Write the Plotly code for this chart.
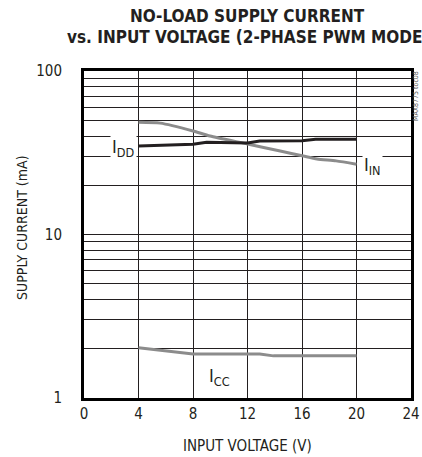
import plotly.graph_objects as go

# Data
v_in = [4, 5.6, 8, 9.25, 12, 14.4, 16.1, 17.1, 18.5, 20]
i_in = [48.6, 48.0, 43.0, 40.0, 35.8, 32.4, 30.2, 29.0, 28.2, 26.9]

v_dd = [4, 8, 9, 12, 12.9, 16, 17, 20]
i_dd = [34.8, 35.6, 36.6, 36.3, 37.3, 37.5, 38.2, 38.2]

v_cc = [4, 8, 12.9, 13.9, 20]
i_cc = [2.03, 1.86, 1.86, 1.81, 1.81]

x_ticks = [0, 4, 8, 12, 16, 20, 24]
y_ticks = [1, 10, 100]
y_minor = [2, 3, 4, 5, 6, 7, 8, 9, 20, 30, 40, 50, 60, 70, 80, 90]

FONT = "DejaVu Sans Condensed, Roboto Condensed, Roboto"
BLACK = "#231f20"
GRAY = "#8c8c8c"

L, T, W, H = 84, 71, 327, 327
FW, FH = 422, 457


def px(xp):
    return (xp - L) / W


def py(yp):
    return (T + H - yp) / H


fig = go.Figure()
fig.add_trace(go.Scatter(x=v_in, y=i_in, mode="lines", name="IIN",
                         line=dict(color=GRAY, width=3, shape="spline", smoothing=0.6)))
fig.add_trace(go.Scatter(x=v_dd, y=i_dd, mode="lines", name="IDD",
                         line=dict(color=BLACK, width=3)))
fig.add_trace(go.Scatter(x=v_cc, y=i_cc, mode="lines", name="ICC",
                         line=dict(color=GRAY, width=3)))

fig.update_layout(
    width=FW, height=FH,
    margin=dict(l=L, r=FW - L - W, t=T, b=FH - T - H),
    paper_bgcolor="white", plot_bgcolor="white",
    showlegend=False,
    font=dict(family=FONT, color=BLACK, size=15),
    xaxis=dict(
        range=[0, 24], tickvals=x_ticks, ticks="", showgrid=True,
        gridcolor=BLACK, gridwidth=1, zeroline=False, automargin=False,
        showline=True, linecolor="black", linewidth=3, mirror=True,
        tickfont=dict(family=FONT, size=15, color=BLACK),
        ticklabelstandoff=0,
    ),
    yaxis=dict(
        type="log", range=[0, 2], tickvals=y_ticks, ticks="",
        showgrid=True, gridcolor=BLACK, gridwidth=1, zeroline=False, automargin=False,
        minor=dict(tickvals=y_minor, showgrid=True, gridcolor=BLACK, gridwidth=1, ticks=""),
        showline=True, linecolor="black", linewidth=3, mirror=True,
        tickfont=dict(family=FONT, size=15, color=BLACK),
        ticklabelstandoff=16,
    ),
)

# Title lines
fig.add_annotation(x=px(247), y=py(16), xref="paper", yref="paper",
                   text="<b>NO-LOAD SUPPLY CURRENT</b>", showarrow=False,
                   xanchor="center", yanchor="middle",
                   font=dict(family=FONT, size=17, color=BLACK))
fig.add_annotation(x=px(65), y=py(37.5), xref="paper", yref="paper",
                   text="<b>vs. INPUT VOLTAGE (2-PHASE PWM MODE)</b>", showarrow=False,
                   xanchor="left", yanchor="middle",
                   font=dict(family=FONT, size=17, color=BLACK))
# Axis titles
fig.add_annotation(x=px(247), y=py(446), xref="paper", yref="paper",
                   text="INPUT VOLTAGE (V)", showarrow=False,
                   xanchor="center", yanchor="middle",
                   font=dict(family=FONT, size=15, color=BLACK))
fig.add_annotation(x=px(22), y=py(228), xref="paper", yref="paper",
                   text="SUPPLY CURRENT (mA)", showarrow=False, textangle=-90,
                   xanchor="center", yanchor="middle",
                   font=dict(family=FONT, size=14, color=BLACK))

# Curve labels
fig.add_annotation(x=2.9, y=1.529, xref="x", yref="y", text="I<sub>DD</sub>",
                   showarrow=False, bgcolor="white", font=dict(family=FONT, size=18, color=BLACK),
                   borderpad=1)
fig.add_annotation(x=21.14, y=1.419, xref="x", yref="y", text="I<sub>IN</sub>",
                   showarrow=False, bgcolor="white", font=dict(family=FONT, size=18, color=BLACK),
                   borderpad=1)
fig.add_annotation(x=9.98, y=0.128, xref="x", yref="y", text="I<sub>CC</sub>",
                   showarrow=False, bgcolor="white", font=dict(family=FONT, size=18, color=BLACK),
                   borderpad=1)
# Figure code
fig.add_annotation(x=px(416), y=py(96), xref="paper", yref="paper", text="MAX8775 toc08",
                   showarrow=False, textangle=-90, xanchor="center", yanchor="middle",
                   font=dict(family=FONT, size=7, color="#555555"))

fig.write_html(
    "out.html",
    config={"displayModeBar": False},
    post_script="document.body.style.margin='0';document.body.style.overflow='hidden';",
)
